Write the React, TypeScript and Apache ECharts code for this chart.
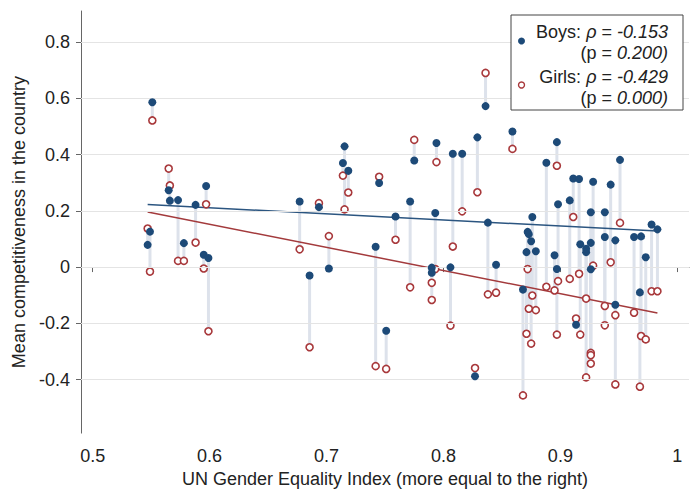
import React, { useEffect, useRef } from "react";
import * as echarts from "echarts";

// UN Gender Equality Index per country
const gei = [
  0.551, 0.565, 0.566, 0.573, 0.578, 0.547, 0.549, 0.588, 0.597, 0.595, 0.599,
  0.677, 0.6855, 0.6935, 0.702, 0.7154, 0.714, 0.7186, 0.742, 0.745, 0.751,
  0.759, 0.7715, 0.775, 0.794, 0.793, 0.79, 0.79, 0.808, 0.806, 0.816, 0.829,
  0.827, 0.836, 0.838, 0.845, 0.859, 0.868, 0.871, 0.872, 0.873, 0.875, 0.876,
  0.879, 0.888, 0.895, 0.897, 0.898, 0.897, 0.908, 0.911, 0.916, 0.9134, 0.917,
  0.922, 0.922, 0.926, 0.926, 0.926, 0.928, 0.938, 0.938, 0.943, 0.947, 0.947,
  0.951, 0.963, 0.969, 0.968, 0.973, 0.978, 0.983,
];
// Mean competitiveness, boys
const boys = [
  0.586, 0.273, 0.236, 0.238, 0.085, 0.079, 0.126, 0.221, 0.288, 0.044, 0.032,
  0.233, -0.03, 0.213, -0.005, 0.429, 0.37, 0.342, 0.072, 0.299, -0.226,
  0.18, 0.233, 0.379, 0.441, 0.192, -0.002, -0.02, 0.403, -0.001, 0.403, 0.461,
  -0.388, 0.572, 0.158, 0.008, 0.482, -0.08, 0.053, 0.125, 0.117, 0.092, 0.178,
  0.056, 0.371, 0.042, 0.444, 0.223, -0.007, 0.237, 0.315, 0.313, -0.205, 0.081,
  0.053, 0.065, 0.195, 0.086, -0.008, 0.303, 0.195, 0.107, 0.293, 0.095, -0.134,
  0.381, 0.107, 0.109, -0.09, 0.035, 0.151, 0.134,
];
// Mean competitiveness, girls
const girls = [
  0.521, 0.35, 0.29, 0.022, 0.022, 0.137, -0.016, 0.087, 0.223, -0.005, -0.228,
  0.063, -0.285, 0.227, 0.11, 0.205, 0.325, 0.265, -0.352, 0.321, -0.362,
  0.097, -0.072, 0.452, 0.373, -0.007, -0.056, -0.117, 0.073, -0.208, 0.198, 0.266,
  -0.359, 0.69, -0.097, -0.091, 0.42, -0.456, -0.237, -0.007, -0.148, -0.272, -0.101,
  -0.153, -0.07, -0.083, 0.36, -0.05, -0.24, -0.042, 0.178, -0.024, -0.183, -0.24,
  -0.392, -0.112, -0.305, -0.313, -0.343, 0.005, -0.138, -0.207, 0.017, -0.171, -0.417,
  0.157, -0.162, -0.245, -0.425, -0.257, -0.086, -0.086,
];
// Fitted regression lines (endpoints)
const boysFit = [
  [0.547, 0.222],
  [0.983, 0.128],
];
const girlsFit = [
  [0.547, 0.196],
  [0.983, -0.163],
];
const xTicks = [0.5, 0.6, 0.7, 0.8, 0.9, 1];
const yTicks = [-0.4, -0.2, 0, 0.2, 0.4, 0.6, 0.8];
const boysLabel = ["Boys: ", "ρ", " = ", "-0.153", "(p = ", "0.200)"];
const girlsLabel = ["Girls: ", "ρ", " = ", "-0.429", "(p = ", "0.000)"];

const FONT = "'Liberation Sans', Arial, Helvetica, sans-serif";
const TEXT = "#222";
const BOY = "#1d4a78";
const GIRL = "#a8383b";

export default function App() {
  const ref = useRef<HTMLDivElement>(null);
  useEffect(() => {
    if (!ref.current) return;
    const chart = echarts.init(ref.current, undefined, { renderer: "svg" });
    const rich = {
      r: { fontFamily: FONT, fontSize: 18, fill: TEXT, color: TEXT },
      i: { fontFamily: FONT, fontSize: 18, fontStyle: "italic", fill: TEXT, color: TEXT },
    };
    const legendText = (lab: string[], y1: number, y2: number) => [
      {
        type: "text",
        z: 101,
        style: {
          x: 668,
          y: y1,
          align: "right",
          verticalAlign: "middle",
          text: `{r|${lab[0]}}{i|${lab[1]}}{r|${lab[2]}}{i|${lab[3]}}`,
          rich,
          font: `18px ${FONT}`,
          fill: TEXT,
        },
      },
      {
        type: "text",
        z: 101,
        style: {
          x: 668,
          y: y2,
          align: "right",
          verticalAlign: "middle",
          text: `{r|${lab[4]}}{i|${lab[5]}}`,
          rich,
          font: `18px ${FONT}`,
          fill: TEXT,
        },
      },
    ];
    const fmt = (v: number) => {
      const r = Math.round(v * 10) / 10;
      if (r === 0) return "0";
      if (r === 1) return "1";
      return r.toFixed(1);
    };
    chart.setOption({
      animation: false,
      backgroundColor: "#fff",
      grid: { left: 81, right: 5, top: 11, bottom: 52, containLabel: false },
      xAxis: {
        type: "value",
        min: 0.49,
        max: 1.01,
        name: "UN Gender Equality Index (more equal to the right)",
        nameLocation: "middle",
        nameGap: 32,
        nameTextStyle: { fontFamily: FONT, fontSize: 18, color: TEXT },
        axisLine: { show: true, lineStyle: { color: "#666", width: 1 } },
        axisTick: { show: true, length: 5, customValues: xTicks, lineStyle: { color: "#666" } },
        axisLabel: {
          customValues: xTicks,
          formatter: fmt,
          margin: 14,
          fontFamily: FONT,
          fontSize: 18,
          color: TEXT,
        },
        splitLine: { show: false },
      },
      yAxis: {
        type: "value",
        min: -0.59,
        max: 0.91,
        name: "Mean competitiveness in the country",
        nameLocation: "middle",
        nameGap: 50,
        nameTextStyle: { fontFamily: FONT, fontSize: 18, color: TEXT },
        axisLine: { show: true, lineStyle: { color: "#666", width: 1 } },
        axisTick: { show: true, length: 5, customValues: yTicks, lineStyle: { color: "#666" } },
        axisLabel: {
          customValues: yTicks,
          formatter: fmt,
          margin: 11,
          fontFamily: FONT,
          fontSize: 18,
          color: TEXT,
        },
        splitLine: { show: false },
      },
      series: [
        {
          type: "line",
          data: [],
          z: 1,
          silent: true,
          markLine: {
            silent: true,
            symbol: "none",
            label: { show: false },
            lineStyle: { color: "#e4e4e4", width: 1, type: "solid" },
            data: yTicks.map((v) => ({ yAxis: v })),
          },
        },
        {
          type: "custom",
          z: 2,
          silent: true,
          data: gei.map((x, i) => [x, boys[i], girls[i]]),
          encode: { x: 0, y: [1, 2] },
          renderItem: (_params: any, api: any) => {
            const p1 = api.coord([api.value(0), api.value(1)]);
            const p2 = api.coord([api.value(0), api.value(2)]);
            return {
              type: "line",
              shape: { x1: p1[0], y1: p1[1], x2: p2[0], y2: p2[1] },
              style: { stroke: "#dde2eb", lineWidth: 3 },
            };
          },
        },
        {
          type: "line",
          z: 3,
          data: boysFit,
          symbol: "none",
          lineStyle: { color: "#2b5580", width: 1.5 },
        },
        {
          type: "line",
          z: 3,
          data: girlsFit,
          symbol: "none",
          lineStyle: { color: "#a33a3c", width: 1.5 },
        },
        {
          type: "scatter",
          z: 4,
          data: gei.map((x, i) => [x, girls[i]]),
          symbol: "circle",
          symbolSize: 7,
          itemStyle: { color: "#fff", borderColor: GIRL, borderWidth: 1.6, opacity: 1 },
        },
        {
          type: "scatter",
          z: 5,
          data: gei.map((x, i) => [x, boys[i]]),
          symbol: "circle",
          symbolSize: 8,
          itemStyle: { color: BOY, opacity: 1 },
        },
      ],
      graphic: [
        {
          type: "rect",
          z: 100,
          shape: { x: 511, y: 15, width: 172, height: 95 },
          style: { fill: "#fff", stroke: "#444", lineWidth: 1 },
        },
        {
          type: "circle",
          z: 101,
          shape: { cx: 521.5, cy: 41, r: 3.5 },
          style: { fill: BOY },
        },
        {
          type: "circle",
          z: 101,
          shape: { cx: 521.5, cy: 85, r: 3 },
          style: { fill: "#fff", stroke: GIRL, lineWidth: 1.4 },
        },
        ...legendText(boysLabel, 32, 53),
        ...legendText(girlsLabel, 77, 98),
      ],
    });
    return () => chart.dispose();
  }, []);
  return (
    <div
      ref={ref}
      style={{ position: "fixed", left: 0, top: 0, width: 694, height: 493 }}
    />
  );
}
